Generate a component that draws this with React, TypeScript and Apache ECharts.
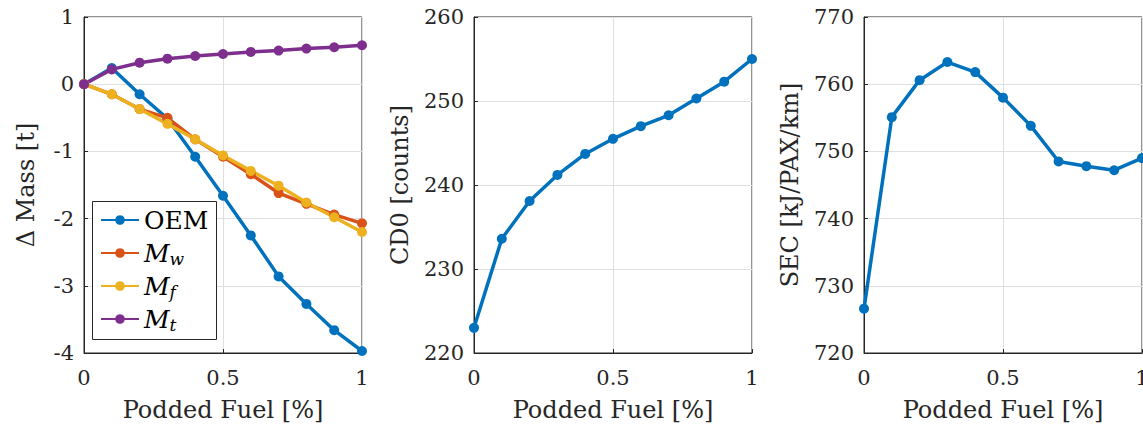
import React, { useEffect, useRef } from "react";
import * as echarts from "echarts";

const xs = [0, 0.1, 0.2, 0.3, 0.4, 0.5, 0.6, 0.7, 0.8, 0.9, 1.0];
const oem = [0, 0.24, -0.15, -0.51, -1.08, -1.66, -2.25, -2.86, -3.27, -3.66, -3.97];
const mw = [0, -0.15, -0.37, -0.5, -0.82, -1.08, -1.34, -1.62, -1.78, -1.94, -2.07];
const mf = [0, -0.15, -0.37, -0.59, -0.82, -1.06, -1.29, -1.51, -1.76, -1.98, -2.2];
const mt = [0, 0.22, 0.32, 0.38, 0.42, 0.45, 0.48, 0.5, 0.53, 0.55, 0.58];
const cd0 = [223.0, 233.6, 238.1, 241.2, 243.7, 245.5, 247.0, 248.3, 250.3, 252.3, 255.0];
const sec = [726.6, 755.1, 760.6, 763.3, 761.8, 758.0, 753.8, 748.5, 747.8, 747.2, 749.0];

const massNames = ["OEM", "Mw", "Mf", "Mt"];
const legendLabels: Record<string, string> = {
  OEM: "{n|OEM}",
  Mw: "{m|M}{s|w}",
  Mf: "{m|M}{s|f}",
  Mt: "{m|M}{s|t}",
};
const xTitle = "Podded Fuel [%]";
const yTitles = ["Δ Mass [t]", "CD0 [counts]", "SEC [kJ/PAX/km]"];
const yRanges = [
  { min: -4, max: 1, interval: 1 },
  { min: 220, max: 260, interval: 10 },
  { min: 720, max: 770, interval: 10 },
];

const COLORS = ["#0072BD", "#D95319", "#EDB120", "#7E2F8E"];
const FONT = "DejaVu Serif";
const AX = "#262626";

const pairs = (ys: number[]) => xs.map((x, i) => [x, ys[i]]);

export default function App() {
  const ref = useRef<HTMLDivElement>(null);
  useEffect(() => {
    document.body.style.margin = "0";
    const chart = echarts.init(ref.current!, null, { renderer: "svg" });
    const lefts = [84, 474, 864];
    const grids = lefts.map((l) => ({
      left: l,
      top: 17,
      width: 278,
      height: 336,
      show: true,
      borderColor: AX,
      borderWidth: 1,
      backgroundColor: "#fff",
      outerBoundsMode: "none",
      containLabel: false,
    }));
    const xAxes = lefts.map((_, i) => ({
      type: "value",
      gridIndex: i,
      min: 0,
      max: 1,
      interval: 0.5,
      name: xTitle,
      nameLocation: "middle",
      nameGap: 45,
      nameTextStyle: { fontFamily: FONT, fontSize: 24, color: AX },
      axisLine: { show: true, onZero: false, lineStyle: { color: AX, width: 1 } },
      axisTick: { show: true, inside: true, length: 4, lineStyle: { color: AX } },
      axisLabel: {
        fontFamily: FONT,
        fontSize: 21,
        color: AX,
        margin: 14,
        formatter: (v: number) => String(v),
      },
      splitLine: { show: true, lineStyle: { color: "#dfdfdf", width: 1 } },
    }));
    const yAxes = yRanges.map((r, i) => ({
      type: "value",
      gridIndex: i,
      min: r.min,
      max: r.max,
      interval: r.interval,
      name: yTitles[i],
      nameLocation: "middle",
      nameGap: i === 0 ? 46 : 62,
      nameRotate: 90,
      nameTextStyle: { fontFamily: FONT, fontSize: 24, color: AX },
      axisLine: { show: true, onZero: false, lineStyle: { color: AX, width: 1 } },
      axisTick: { show: true, inside: true, length: 4, lineStyle: { color: AX } },
      axisLabel: { fontFamily: FONT, fontSize: 21, color: AX, margin: 10 },
      splitLine: { show: true, lineStyle: { color: "#dfdfdf", width: 1 } },
    }));
    const mk = (name: string, ys: number[], color: string, idx: number) => ({
      name,
      type: "line",
      xAxisIndex: idx,
      yAxisIndex: idx,
      data: pairs(ys),
      symbol: "circle",
      symbolSize: 10,
      showSymbol: true,
      lineStyle: { color, width: 3.5 },
      itemStyle: { color },
      color,
    });
    const massData = [oem, mw, mf, mt];
    const series = [
      ...massNames.map((n, i) => mk(n, massData[i], COLORS[i], 0)),
      mk("CD0", cd0, COLORS[0], 1),
      mk("SEC", sec, COLORS[0], 2),
    ];
    chart.setOption({
      animation: false,
      grid: grids,
      xAxis: xAxes,
      yAxis: yAxes,
      series,
      graphic: [
        {
          type: "rect",
          z: 3,
          shape: { x: 92.5, y: 201.5, width: 124, height: 138 },
          style: { fill: "#fff", stroke: AX, lineWidth: 1 },
          silent: true,
        },
      ],
      legend: {
        data: massNames,
        orient: "vertical",
        left: 92,
        top: 201,
        z: 5,
        padding: [5, 10, 5, 8],
        itemGap: 5,
        itemWidth: 38,
        itemHeight: 12,
        borderWidth: 0,
        formatter: (n: string) => legendLabels[n],
        textStyle: {
          fontFamily: FONT,
          fontSize: 25,
          color: "#000",
          lineHeight: 28,
          rich: {
            n: { fontFamily: FONT, fontSize: 25, lineHeight: 28, color: "#000" },
            m: { fontFamily: FONT, fontSize: 25, fontStyle: "italic", lineHeight: 28, color: "#000" },
            s: {
              fontFamily: FONT,
              fontSize: 17,
              fontStyle: "italic",
              lineHeight: 12,
              verticalAlign: "bottom",
              color: "#000",
            },
          },
        },
      },
    });
    return () => chart.dispose();
  }, []);
  return <div ref={ref} style={{ width: 1143, height: 435 }} />;
}
